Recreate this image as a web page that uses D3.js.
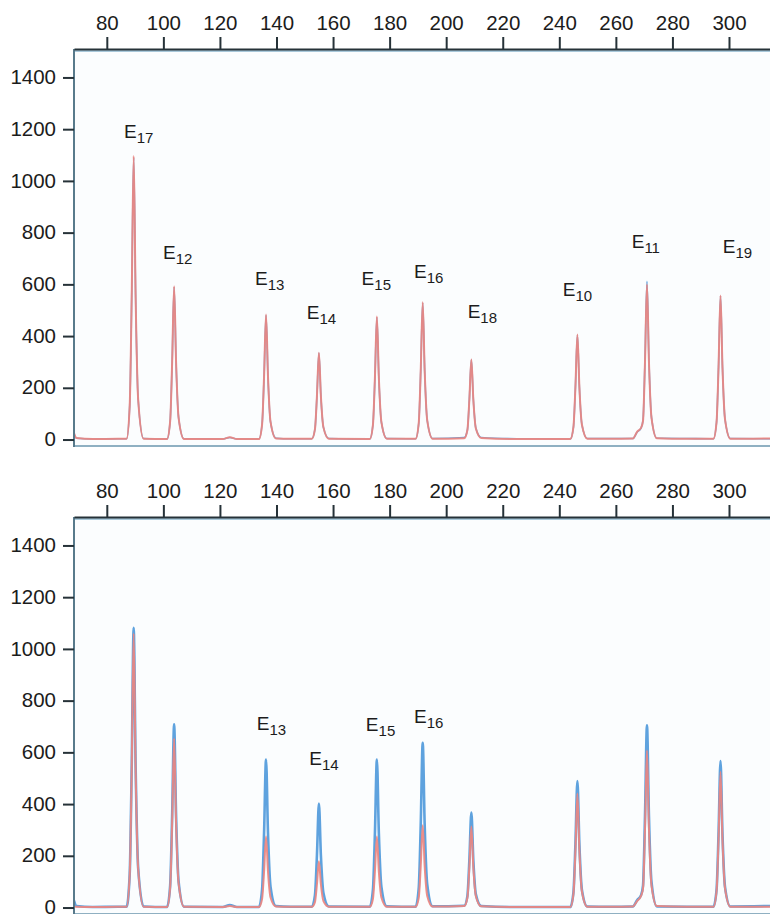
<html>

<head>
    <script src="https://cdn.jsdelivr.net/npm/d3@7"></script>
    <style>
        body { margin: 0; background: #fff; }
        text { font-family: "Liberation Sans", Arial, sans-serif; fill: #1c1c1c; }
    </style>
</head>

<body>
    <script>

        // fragment size (bp) sample positions shared by all traces
        var sizes = [68.4, 69.3, 75, 84,
            87.0, 88.1, 88.8, 89.5, 90.2, 91.1, 93.0,
            101.3, 102.4, 103.1, 103.8, 104.5, 105.4, 107.3,
            121, 123.5, 126,
            133.8, 134.9, 135.6, 136.3, 137.0, 137.9, 139.8,
            145,
            152.5, 153.6, 154.3, 155.0, 155.7, 156.6, 158.5,
            173.0, 174.1, 174.8, 175.5, 176.2, 177.1, 179.0,
            189.2, 190.3, 191.0, 191.7, 192.4, 193.3, 195.2,
            206.4, 207.5, 208.2, 208.9, 209.6, 210.5, 212.4,
            225,
            243.9, 245.0, 245.7, 246.4, 247.1, 248.0, 249.9,
            258,
            266.0, 267.5, 268.9, 269.6, 270.3, 271.0, 271.7, 272.6, 274.5,
            285,
            294.5, 295.6, 296.3, 297.0, 297.7, 298.6, 300.5,
            315];

        var topRed = [25, 6, 2, 3,
            3, 132, 548, 1096, 548, 153, 3,
            2, 71, 297, 593, 297, 83, 2,
            2, 9, 2,
            2, 58, 242, 483, 242, 68, 4,
            3,
            3, 40, 168, 336, 168, 47, 3,
            2, 57, 238, 476, 238, 67, 3,
            3, 64, 266, 531, 266, 74, 3,
            5, 37, 155, 309, 155, 43, 6,
            2,
            2, 49, 203, 406, 203, 57, 3,
            3,
            4, 30, 45, 72, 300, 600, 300, 84, 5,
            3,
            3, 67, 279, 557, 279, 78, 3,
            4];

        var topBlue = [22, 5, 2, 3,
            3, 131, 545, 1090, 545, 153, 4,
            2, 71, 295, 590, 295, 83, 3,
            2, 8, 2,
            2, 58, 240, 480, 240, 67, 5,
            3,
            3, 40, 167, 334, 167, 47, 4,
            2, 57, 236, 472, 236, 66, 4,
            3, 63, 264, 528, 264, 74, 4,
            8, 37, 156, 308, 156, 44, 8,
            3,
            2, 48, 202, 404, 202, 57, 4,
            4,
            4, 28, 44, 74, 306, 612, 306, 86, 5,
            4,
            3, 67, 278, 555, 278, 78, 4,
            3];

        var bottomRed = [5, 3, 2, 3,
            3, 127, 530, 1060, 530, 148, 3,
            2, 78, 327, 654, 327, 92, 3,
            2, 6, 2,
            2, 33, 138, 275, 138, 39, 4,
            3,
            3, 21, 90, 179, 90, 25, 3,
            3, 33, 138, 275, 138, 39, 3,
            3, 38, 159, 318, 159, 45, 4,
            6, 38, 157, 313, 157, 44, 5,
            2,
            2, 53, 221, 441, 221, 62, 3,
            3,
            4, 25, 45, 73, 304, 608, 304, 85, 6,
            3,
            3, 63, 263, 525, 263, 74, 3,
            3];

        var bottomBlue = [27, 6, 2, 3,
            3, 130, 541, 1082, 541, 151, 4,
            2, 85, 354, 708, 354, 99, 3,
            2, 10, 2,
            2, 69, 286, 572, 286, 80, 6,
            3,
            3, 48, 201, 402, 201, 56, 4,
            3, 69, 286, 572, 286, 80, 5,
            3, 76, 319, 637, 319, 89, 5,
            7, 44, 184, 367, 184, 51, 6,
            2,
            2, 59, 245, 489, 245, 68, 4,
            3,
            4, 28, 48, 85, 353, 705, 353, 99, 4,
            3,
            3, 68, 283, 566, 283, 79, 4,
            6];

        var xTicks = [80, 100, 120, 140, 160, 180, 200, 220, 240, 260, 280, 300];
        var yTicks = [0, 200, 400, 600, 800, 1000, 1200, 1400];

        // exon labels (subscript, bp, rfu position of label baseline)
        var topLabelSub = ['17', '12', '13', '14', '15', '16', '18', '10', '11', '19'];
        var topLabelBp = [86.1, 99.9, 132.4, 150.7, 170.1, 188.6, 207.6, 241.2, 265.6, 297.8];
        var topLabelVal = [1166, 698, 598, 466, 598, 625, 470, 555, 741, 721];

        var bottomLabelSub = ['13', '14', '15', '16'];
        var bottomLabelBp = [133.0, 151.6, 171.6, 188.6];
        var bottomLabelVal = [686, 550, 682, 712];


        var w = 770, h = 914;

        var svg = d3.select("body")
            .append("svg")
            .attr('width', w)
            .attr('height', h);

        var x = d3.scaleLinear()
            .domain([68.4, 314.5])
            .range([74, 770]);

        function drawPanel(top, red, blue, blueWidth, labSub, labBp, labVal, id) {
            var bottom = top + 397;
            var y = d3.scaleLinear()
                .domain([-25, 1510])
                .range([bottom, top]);

            var g = svg.append('g');

            g.append('rect')
                .attr('x', 74).attr('y', top)
                .attr('width', w - 74).attr('height', bottom - top)
                .attr('fill', '#fbfdfe');

            g.append('clipPath').attr('id', id)
                .append('rect')
                .attr('x', 75).attr('y', top)
                .attr('width', w - 75).attr('height', bottom - top);

            var line = d3.line()
                .x((d, i) => { return x(sizes[i]) })
                .y((d) => { return y(d) })
                .curve(d3.curveMonotoneX);

            var traces = g.append('g').attr('clip-path', 'url(#' + id + ')');

            traces.append('path')
                .attr('d', line(blue))
                .attr('fill', 'none')
                .attr('stroke', '#5ea2de')
                .attr('stroke-width', blueWidth);

            traces.append('path')
                .attr('d', line(red))
                .attr('fill', 'none')
                .attr('stroke', '#eb8680')
                .attr('stroke-width', 2)
                .attr('stroke-opacity', 0.92);

            // frame
            g.append('line')
                .attr('x1', 74).attr('x2', w).attr('y1', top + 2).attr('y2', top + 2)
                .attr('stroke', '#a8c8da').attr('stroke-width', 2);
            g.append('line')
                .attr('x1', 74).attr('x2', w).attr('y1', bottom).attr('y2', bottom)
                .attr('stroke', '#8fb0c2').attr('stroke-width', 2);
            g.append('line')
                .attr('x1', 74).attr('x2', 74).attr('y1', top).attr('y2', bottom + 1)
                .attr('stroke', '#587a8b').attr('stroke-width', 2);

            // top size axis
            var xAxis = d3.axisTop(x)
                .tickValues(xTicks)
                .tickFormat(d3.format('d'))
                .tickSize(12)
                .tickPadding(7)
                .tickSizeOuter(0);

            var ax = g.append('g')
                .attr('transform', 'translate(0,' + top + ')')
                .call(xAxis);
            ax.attr('font-size', null).attr('font-family', null);
            ax.select('.domain').attr('stroke', '#263238').attr('stroke-width', 2);
            ax.selectAll('.tick line').attr('stroke', '#263238').attr('stroke-width', 2);
            ax.selectAll('.tick text').style('font-size', '20.5px').attr('fill', '#1c1c1c');

            // left rfu axis
            var yAxis = d3.axisLeft(y)
                .tickValues(yTicks)
                .tickFormat(d3.format('d'))
                .tickSize(11)
                .tickPadding(7)
                .tickSizeOuter(0);

            var ay = g.append('g')
                .attr('transform', 'translate(74,0)')
                .call(yAxis);
            ay.attr('font-size', null).attr('font-family', null);
            ay.select('.domain').remove();
            ay.selectAll('.tick line').attr('stroke', '#263238').attr('stroke-width', 2);
            ay.selectAll('.tick text').style('font-size', '20.5px').attr('fill', '#1c1c1c')
                .attr('dy', '0.3em');

            // peak labels
            var labs = g.selectAll('text.lab')
                .data(labSub)
                .enter()
                .append('text')
                .attr('class', 'lab')
                .attr('x', (d, i) => { return x(labBp[i]) })
                .attr('y', (d, i) => { return y(labVal[i]) })
                .style('font-size', '19px');
            labs.append('tspan').text('E');
            labs.append('tspan')
                .attr('dy', 5)
                .style('font-size', '15px')
                .text((d) => { return d });
        }

        drawPanel(49, topRed, topBlue, 1.6, topLabelSub, topLabelBp, topLabelVal, 'clipTop');
        drawPanel(517, bottomRed, bottomBlue, 2.6, bottomLabelSub, bottomLabelBp, bottomLabelVal, 'clipBottom');

    </script>

</body>

</html>
